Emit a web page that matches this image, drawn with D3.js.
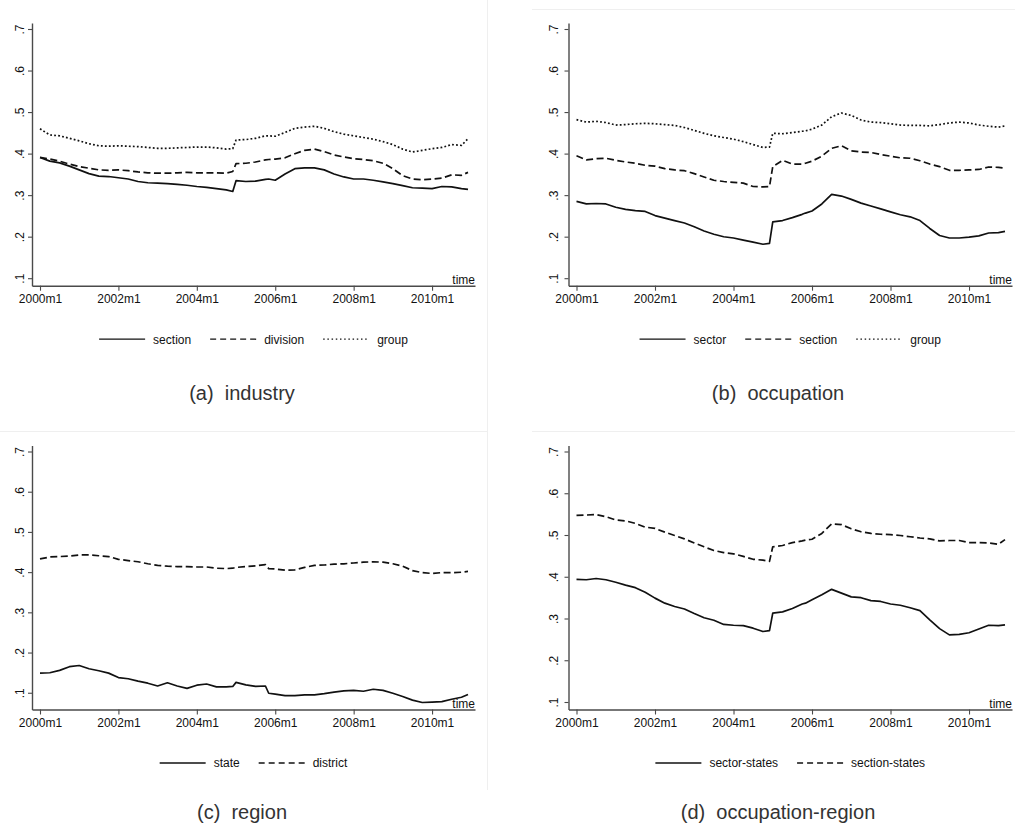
<!DOCTYPE html>
<html>
<head>
<meta charset="utf-8">
<script src="https://cdn.jsdelivr.net/npm/d3@7"></script>
<style>
  body { margin: 0; background: #fff; }
  svg { display: block; }
  text { font-family: "Liberation Sans", Arial, Helvetica, sans-serif; }
</style>
</head>
<body>
<div id="chart"></div>
<script>
let months = [0, 3, 6, 9, 12, 15, 18, 21, 24, 27, 30, 33, 36, 39, 42, 45, 48, 51, 54, 57,
    59, 60, 63, 66, 69, 70, 72, 75, 78, 81, 84, 87, 90, 93, 96, 99, 102, 105, 108, 111,
    114, 117, 120, 123, 126, 129, 131];

// (a) industry
let industrySection = [.392, .383, .379, .371, .362, .353, .347, .346, .343, .340, .334, .331, .330, .329, .327, .325, .322, .320, .317, .314,
    .310, .336, .334, .335, .339, .340, .337, .352, .365, .367, .367, .362, .352, .345, .340, .340, .337, .333, .329, .324,
    .319, .318, .317, .322, .321, .317, .315];
let industryDivision = [.392, .388, .383, .376, .370, .366, .362, .361, .362, .360, .357, .355, .354, .354, .355, .356, .355, .355, .355, .354,
    .358, .377, .378, .381, .386, .387, .388, .391, .401, .409, .412, .406, .398, .393, .389, .387, .384, .378, .365, .348,
    .340, .338, .340, .342, .350, .349, .356];
let industryGroup = [.461, .446, .444, .438, .432, .425, .420, .419, .420, .419, .418, .416, .414, .414, .415, .416, .417, .417, .415, .412,
    .413, .434, .435, .438, .444, .444, .443, .452, .462, .465, .467, .462, .454, .448, .444, .440, .436, .430, .423, .412,
    .405, .409, .413, .416, .423, .421, .437];

// (b) occupation
let occupationSector = [.286, .280, .281, .280, .272, .267, .264, .262, .252, .246, .240, .234, .225, .215, .207, .201, .198, .193, .188, .183,
    .185, .237, .240, .247, .255, .258, .263, .280, .303, .299, .291, .282, .275, .268, .261, .254, .249, .240, .221, .204,
    .198, .198, .200, .203, .210, .211, .214];
let occupationSection = [.396, .386, .389, .390, .385, .381, .378, .373, .371, .365, .362, .360, .353, .345, .337, .334, .332, .330, .322, .321,
    .322, .370, .385, .376, .376, .378, .383, .395, .414, .420, .408, .405, .404, .399, .395, .391, .390, .384, .376, .370,
    .361, .361, .362, .363, .369, .368, .366];
let occupationGroup = [.483, .477, .479, .476, .470, .471, .473, .474, .473, .471, .469, .464, .457, .450, .444, .440, .436, .430, .423, .416,
    .417, .450, .449, .452, .455, .456, .460, .470, .490, .499, .493, .482, .477, .476, .473, .470, .469, .469, .468, .471,
    .475, .477, .475, .470, .467, .465, .468];

// (c) region
let regionState = [.150, .151, .157, .166, .169, .161, .156, .150, .139, .136, .130, .125, .118, .126, .118, .112, .120, .123, .116, .116,
    .117, .127, .121, .117, .118, .100, .098, .094, .094, .096, .096, .099, .103, .106, .107, .105, .110, .107, .100, .092,
    .083, .077, .078, .079, .085, .090, .097];
let regionDistrict = [.434, .439, .440, .441, .444, .444, .442, .440, .433, .430, .427, .422, .418, .416, .415, .415, .414, .414, .411, .410,
    .411, .413, .415, .417, .420, .410, .409, .406, .407, .413, .418, .419, .421, .422, .424, .426, .427, .426, .422, .416,
    .405, .400, .398, .400, .400, .401, .403];

// (d) occupation-region
let occRegionSector = [.395, .394, .397, .394, .388, .381, .375, .364, .350, .338, .330, .324, .313, .303, .297, .287, .285, .284, .278, .270,
    .272, .314, .317, .325, .336, .338, .346, .358, .371, .362, .353, .351, .344, .342, .336, .333, .327, .320, .298, .277,
    .262, .263, .267, .276, .285, .284, .286];
let occRegionSection = [.548, .549, .550, .545, .537, .535, .529, .520, .517, .508, .500, .492, .482, .473, .464, .459, .456, .450, .443, .441,
    .438, .473, .476, .483, .487, .489, .491, .505, .528, .526, .516, .509, .505, .503, .502, .500, .497, .494, .492, .487,
    .488, .488, .483, .483, .482, .479, .490];

let xTicks = [0, 24, 48, 72, 96, 120];
let xTickLabels = ['2000m1', '2002m1', '2004m1', '2006m1', '2008m1', '2010m1'];
let yTicks = [.1, .2, .3, .4, .5, .6, .7];
let yTickLabels = ['.1', '.2', '.3', '.4', '.5', '.6', '.7'];

let panels = [
    { caption: '(a)\u00a0\u00a0industry', col: 0, row: 0,
      series: [['section', industrySection, 'solid'], ['division', industryDivision, 'dash'], ['group', industryGroup, 'dot']] },
    { caption: '(b)\u00a0\u00a0occupation', col: 1, row: 0,
      series: [['sector', occupationSector, 'solid'], ['section', occupationSection, 'dash'], ['group', occupationGroup, 'dot']] },
    { caption: '(c)\u00a0\u00a0region', col: 0, row: 1,
      series: [['state', regionState, 'solid'], ['district', regionDistrict, 'dash']] },
    { caption: '(d)\u00a0\u00a0occupation-region', col: 1, row: 1,
      series: [['sector-states', occRegionSector, 'solid'], ['section-states', occRegionSection, 'dash']] }
];

// layout of the two columns and two rows
let cols = [
    { axisX: 32, axisEnd: 475, labelGap: 8, captionX: 242 },
    { axisX: 568.5, axisEnd: 1012, labelGap: 11, captionX: 778 }
];
let rows = [
    { top: 23, bottom: 285.7, caption: 400 },
    { top: 445.5, bottom: 709.5, caption: 819 }
];
let padX = 8, padTop = 6.5, padBottom = 7;

let dashes = { solid: null, dash: '7,3.5', dot: '1.8,2.2' };
let legendDashes = { solid: null, dash: '6,4', dot: '1.5,2.7' };

let svg = d3.select('#chart')
    .append('svg')
    .attr('width', 1015)
    .attr('height', 825);

svg.append('rect').attr('width', 1015).attr('height', 825).attr('fill', '#fff');

// faint borders left over from the sub-figure frames
let frame = svg.append('g').attr('stroke', '#efefef').attr('stroke-width', 1);
frame.append('line').attr('x1', 487.5).attr('x2', 487.5).attr('y1', 0).attr('y2', 790);
frame.append('line').attr('x1', 0).attr('x2', 487).attr('y1', 431.5).attr('y2', 431.5);
frame.append('line').attr('x1', 532).attr('x2', 1015).attr('y1', 431.5).attr('y2', 431.5);
frame.append('line').attr('x1', 532).attr('x2', 1015).attr('y1', 9.5).attr('y2', 9.5);

panels.forEach(function(p) {
    let c = cols[p.col];
    let r = rows[p.row];
    let g = svg.append('g');

    // x scale: month index, padded like Stata's plot region
    let x = d3.scaleLinear()
        .domain([0, 131])
        .range([c.axisX + padX, c.axisEnd - 7]);
    x.domain([x.invert(c.axisX), x.invert(c.axisEnd)]).range([c.axisX, c.axisEnd]);

    let dataMin = d3.min(p.series, s => d3.min(s[1]));
    let y = d3.scaleLinear()
        .domain([Math.min(0.1, dataMin), 0.7])
        .range([r.bottom - padBottom, r.top + padTop]);
    y.domain([y.invert(r.bottom), y.invert(r.top)]).range([r.bottom, r.top]);

    // y axis
    let leftAxis = d3.axisLeft(y)
        .tickValues(yTicks)
        .tickFormat((d, i) => yTickLabels[i])
        .tickSizeInner(4)
        .tickSizeOuter(0);
    let ya = g.append('g')
        .attr('transform', `translate(${c.axisX},0)`)
        .call(leftAxis);
    ya.selectAll('text')
        .attr('x', 0)
        .attr('dy', 0)
        .attr('transform', d => `translate(${-c.labelGap},${y(d)}) rotate(-90)`)
        .attr('y', 0)
        .attr('text-anchor', 'middle')
        .attr('font-size', 12)
        .attr('fill', '#111');
    ya.selectAll('.tick').attr('transform', null);
    ya.selectAll('.tick line').attr('y1', d => y(d)).attr('y2', d => y(d));

    // x axis
    let bottomAxis = d3.axisBottom(x)
        .tickValues(xTicks)
        .tickFormat((d, i) => xTickLabels[i])
        .tickSizeInner(5)
        .tickSizeOuter(0);
    let xa = g.append('g')
        .attr('transform', `translate(0,${r.bottom})`)
        .call(bottomAxis);
    xa.selectAll('text')
        .attr('y', 9)
        .attr('dy', '0.71em')
        .attr('font-size', 12)
        .attr('fill', '#111');

    [ya, xa].forEach(function(a) {
        a.select('.domain').attr('stroke', '#4a4a4a').attr('stroke-width', 1.4);
        a.selectAll('.tick line').attr('stroke', '#4a4a4a').attr('stroke-width', 1.1);
        a.attr('font-family', null);
    });

    // axis title
    g.append('text')
        .attr('x', c.axisEnd)
        .attr('y', r.bottom - 2)
        .attr('text-anchor', 'end')
        .attr('font-size', 12)
        .attr('fill', '#111')
        .text('time');

    // lines
    let line = d3.line()
        .x((d, i) => x(months[i]))
        .y(d => y(d));
    p.series.forEach(function(s) {
        g.append('path')
            .datum(s[1])
            .attr('d', line)
            .attr('fill', 'none')
            .attr('stroke', '#111')
            .attr('stroke-width', 1.7)
            .attr('stroke-linejoin', 'round')
            .attr('stroke-dasharray', dashes[s[2]]);
    });

    // legend, centred under the plot
    let legendY = r.bottom + 53.5;
    let lg = g.append('g');
    let cursor = 0;
    p.series.forEach(function(s, i) {
        if (i > 0) cursor += 19;
        lg.append('line')
            .attr('x1', cursor).attr('x2', cursor + 46)
            .attr('y1', 0).attr('y2', 0)
            .attr('stroke', '#111')
            .attr('stroke-width', 1.3)
            .attr('stroke-dasharray', legendDashes[s[2]]);
        cursor += 46 + 8;
        let t = lg.append('text')
            .attr('x', cursor)
            .attr('y', 4.3)
            .attr('font-size', 12)
            .attr('fill', '#111')
            .text(s[0]);
        cursor += t.node().getComputedTextLength();
    });
    let centre = (c.axisX + c.axisEnd) / 2;
    lg.attr('transform', `translate(${centre - cursor / 2},${legendY})`);

    // caption
    svg.append('text')
        .attr('x', c.captionX)
        .attr('y', r.caption)
        .attr('text-anchor', 'middle')
        .attr('font-size', 20)
        .attr('fill', '#333')
        .text(p.caption);
});
</script>
</body>
</html>
